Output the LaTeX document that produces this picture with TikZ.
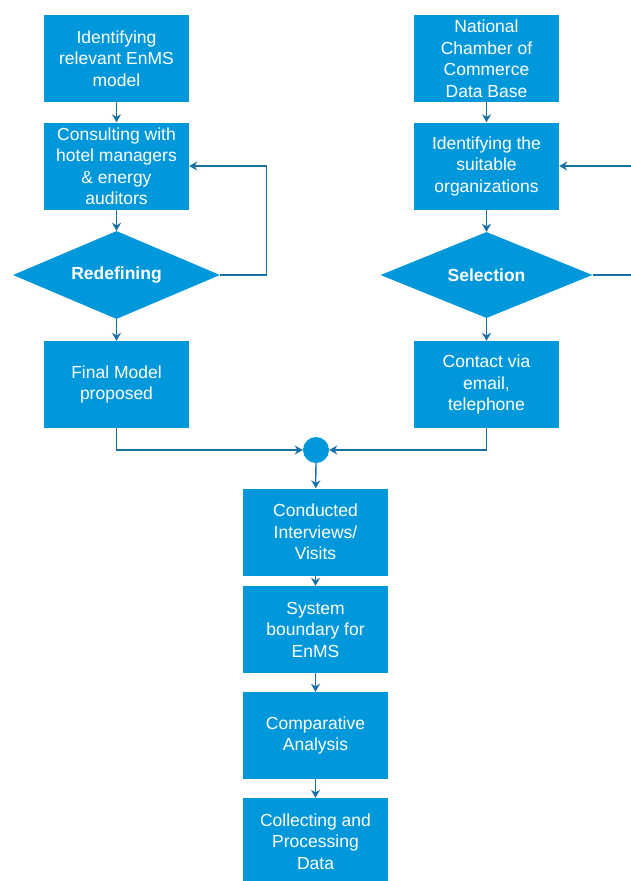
\documentclass[tikz,border=0pt]{standalone}
\usepackage{fontspec}
\setmainfont{Liberation Sans}
\usepackage{xcolor}
\usepackage{tikz}
\usetikzlibrary{shapes.geometric, arrows.meta, positioning}
\definecolor{boxblue}{RGB}{0,152,218}
\definecolor{lineblue}{RGB}{25,112,165}

\begin{document}
\begin{tikzpicture}[
    x=1pt, y=-1pt,
    box/.style={rectangle, fill=boxblue, text=white, minimum width=145pt, minimum height=87pt, inner sep=0pt, align=center, font=\fontsize{17.5}{21.5}\selectfont},
    decision/.style={diamond, fill=boxblue, text=white, aspect=2.4, inner sep=0pt, font=\fontsize{17.5}{21.5}\selectfont\bfseries},
    junction/.style={circle, fill=boxblue, minimum size=26pt, inner sep=0pt},
    arrow/.style={-{Stealth[length=8pt, width=9pt]}, draw=lineblue, line width=1.3pt}
]
\useasboundingbox (0,0) rectangle (630,881);

% Left branch
\node[box] (enms) at (116.5,58.5) {Identifying\\relevant EnMS\\model};
\node[box] (consult) at (116.5,166) {Consulting with\\hotel managers\\\& energy\\auditors};
\node[decision, minimum width=207pt, minimum height=88pt] (redefine) at (116.5,275) {Redefining};
\node[box] (final) at (116.5,384.5) {Final Model\\proposed};

% Right branch
\node[box] (chamber) at (486.5,58.5) {National\\Chamber of\\Commerce\\Data Base};
\node[box] (suitable) at (486.5,166) {Identifying the\\suitable\\organizations};
\node[decision, minimum width=212pt, minimum height=86pt] (select) at (486.5,275) {Selection};
\node[box] (contact) at (486.5,384.5) {Contact via\\email,\\telephone};

% Merge and main line
\node[junction] (merge) at (316,450) {};
\node[box] (interview) at (315.5,532) {Conducted\\Interviews/\\Visits};
\node[box] (boundary) at (315.5,629.5) {System\\boundary for\\EnMS};
\node[box] (compare) at (315.5,735.5) {Comparative\\Analysis};
\node[box] (collect) at (315.5,841.5) {Collecting and\\Processing\\Data};

% Connectors
\draw[arrow] (enms) -- (consult);
\draw[arrow] (consult) -- (redefine);
\draw[arrow] (redefine) -- (final);
\draw[arrow] (redefine.east) -- ++(46,0) |- (consult.east);

\draw[arrow] (chamber) -- (suitable);
\draw[arrow] (suitable) -- (select);
\draw[arrow] (select) -- (contact);
\draw[arrow] (select.east) -- ++(60,0) |- (suitable.east);

\draw[arrow] (final.south) |- (merge.west);
\draw[arrow] (contact.south) |- (merge.east);

\draw[arrow] (merge) -- (interview);
\draw[arrow] (interview) -- (boundary);
\draw[arrow] (boundary) -- (compare);
\draw[arrow] (compare) -- (collect);

\end{tikzpicture}
\end{document}
